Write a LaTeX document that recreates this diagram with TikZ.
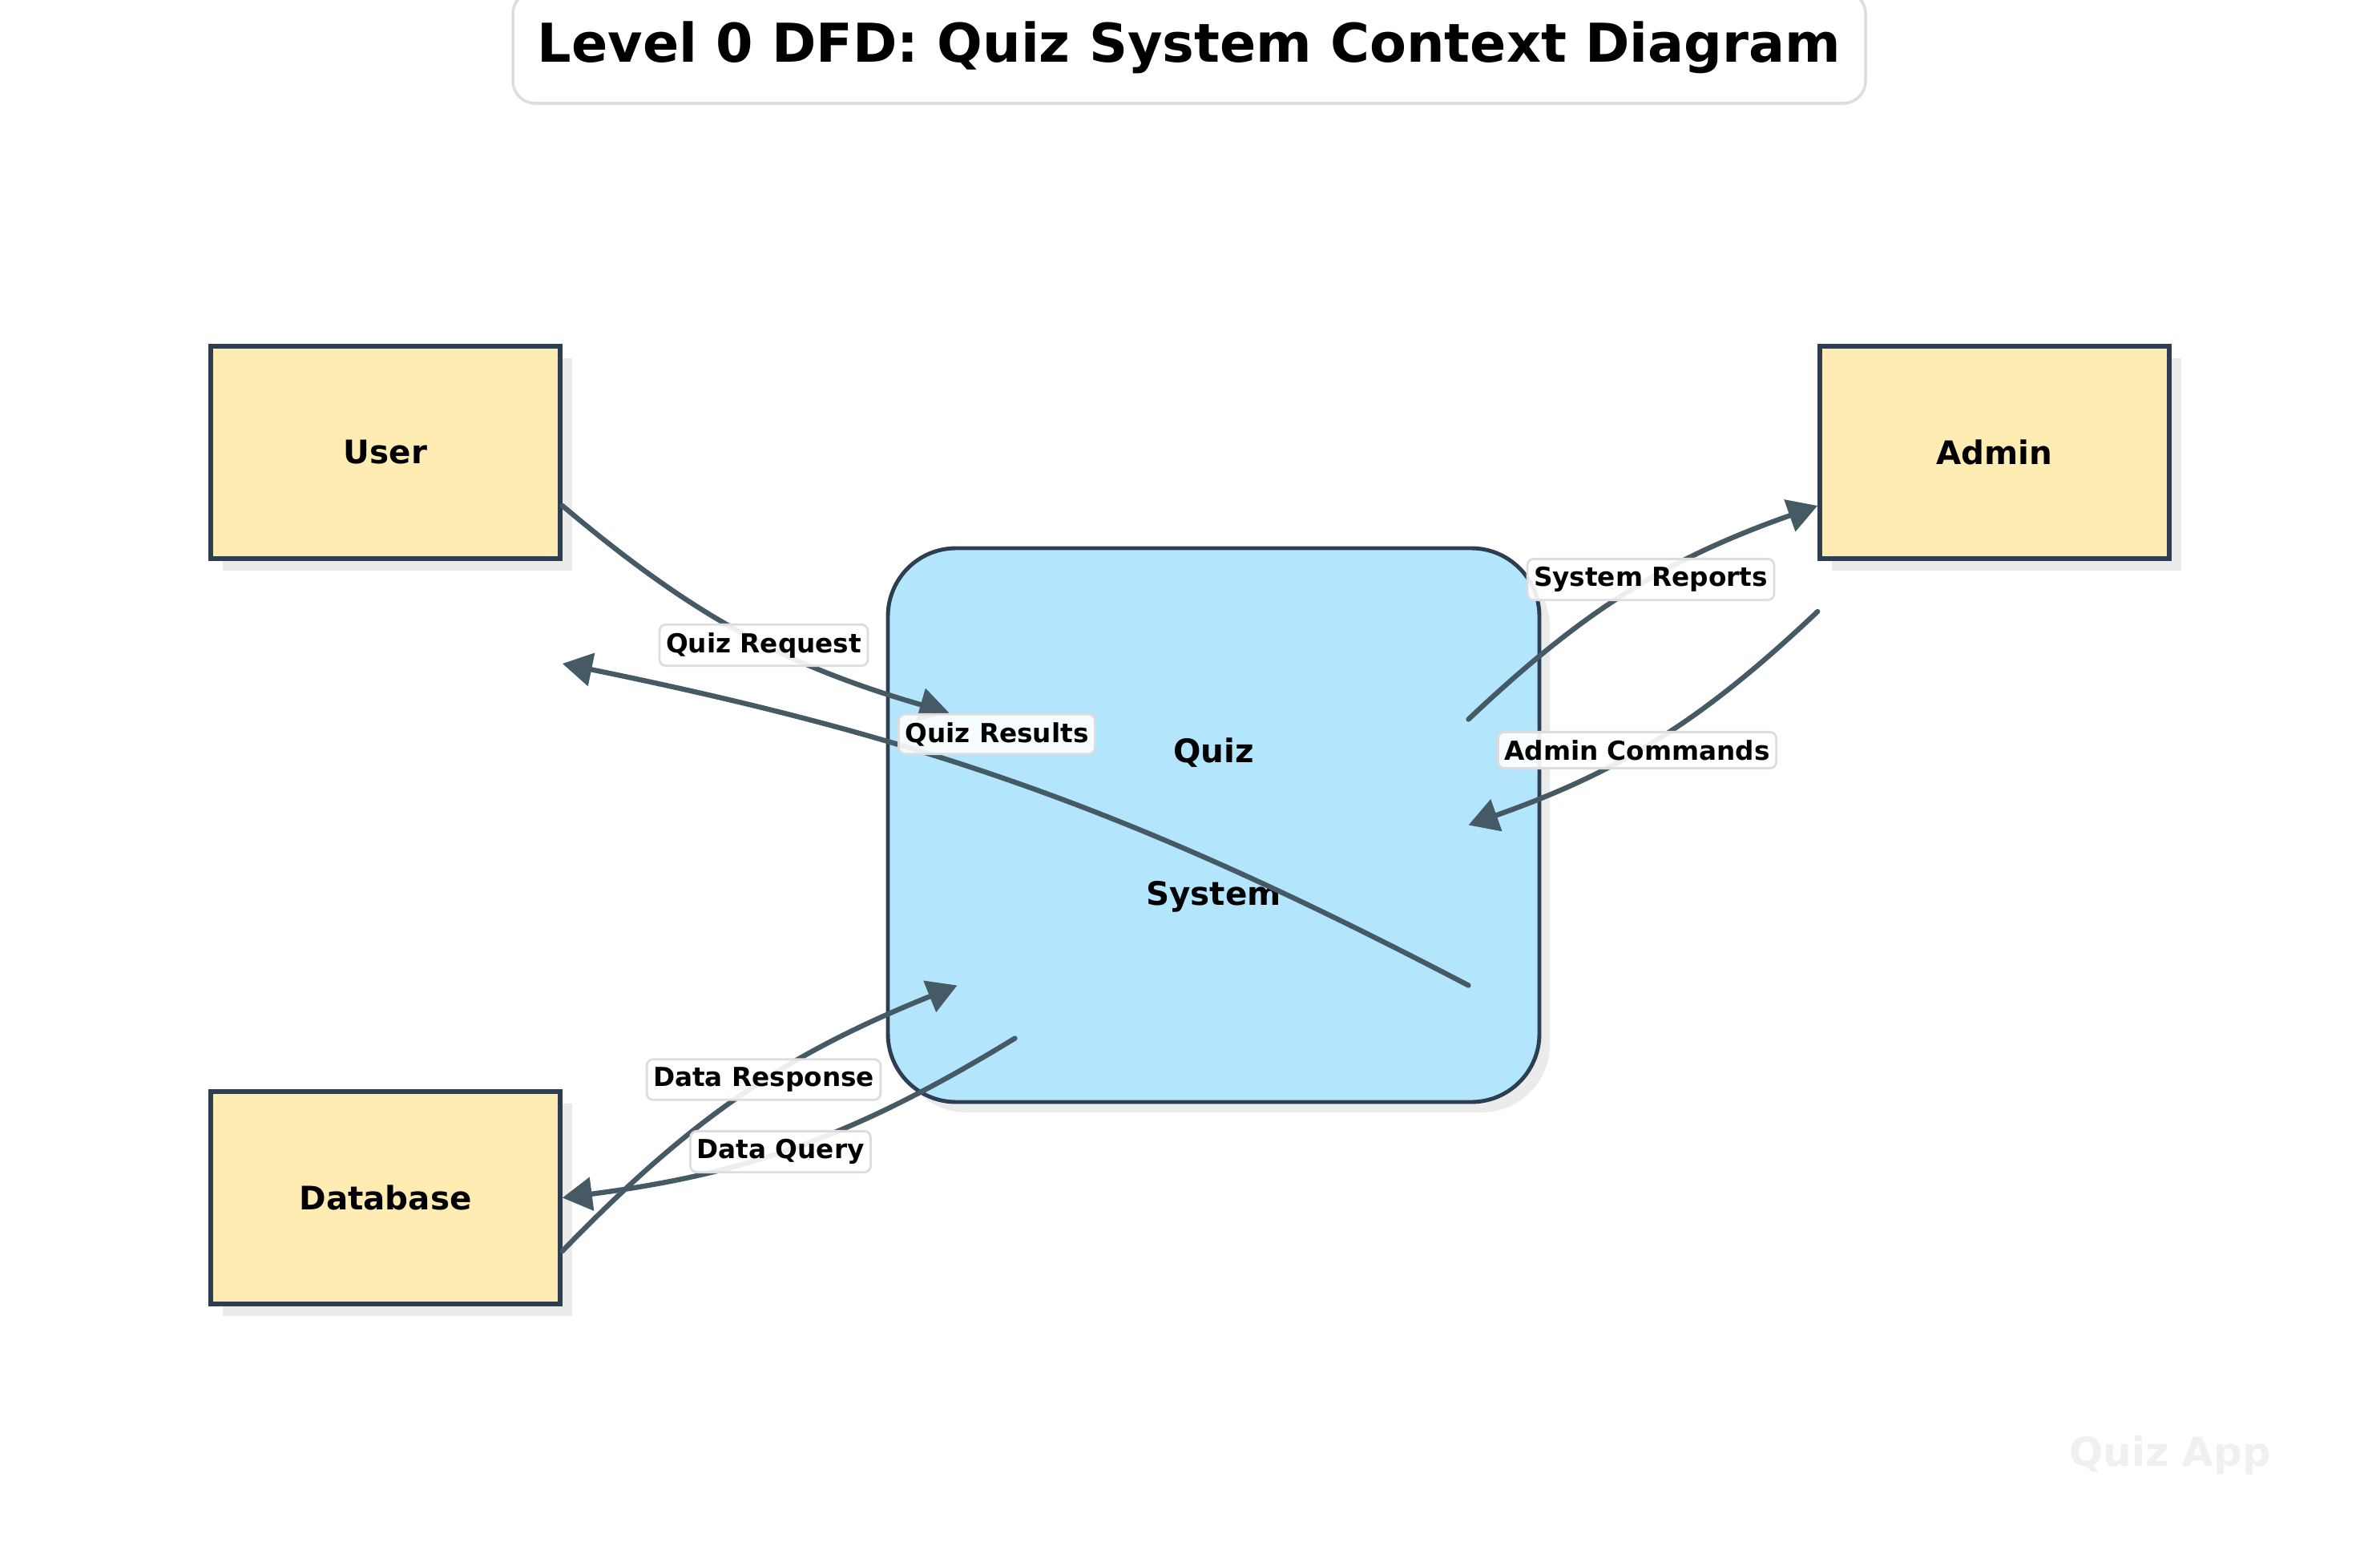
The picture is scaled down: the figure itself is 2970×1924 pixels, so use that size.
\documentclass[tikz,border=0pt]{standalone}
\usepackage{fontspec}
\setmainfont{DejaVu Sans}
\usetikzlibrary{arrows.meta,shadows,calc}

\definecolor{entityfill}{HTML}{FFECB3}
\definecolor{processfill}{HTML}{B3E5FC}
\definecolor{boxline}{HTML}{2C3E50}
\definecolor{flowline}{HTML}{455A64}
\definecolor{lblline}{HTML}{DDDDDD}
\definecolor{marklight}{HTML}{F0F0F0}

\tikzset{
  entity/.style={draw=boxline, line width=1.6pt, fill=entityfill,
    minimum width=43.6mm, minimum height=26.5mm,
    font=\bfseries\fontsize{11.5}{14}\selectfont,
    drop shadow={shadow xshift=1.5mm, shadow yshift=-1.5mm, fill=black!8, opacity=1}},
  process/.style={draw=boxline, line width=1.4pt, fill=processfill, rounded corners=8.5mm,
    minimum width=81.3mm, minimum height=69.1mm, align=center,
    font=\bfseries\fontsize{11.5}{14}\selectfont,
    drop shadow={shadow xshift=1.3mm, shadow yshift=-1.3mm, fill=black!8, opacity=1}},
  flow/.style={draw=flowline, line width=1.8pt, line cap=round,
    -{Triangle[length=3.7mm,width=4.1mm]}},
  flowlbl/.style={fill=white, fill opacity=0.9, text opacity=1, draw=lblline,
    line width=0.8pt, rounded corners=0.8mm, inner xsep=0.8mm, inner ysep=1mm,
    font=\bfseries\fontsize{9.3}{11}\selectfont},
  titlebox/.style={draw=lblline, line width=1pt, fill=white, rounded corners=2.8mm,
    minimum width=168.8mm, minimum height=14mm,
    font=\bfseries\fontsize{19}{23}\selectfont}
}

\begin{document}
\begin{tikzpicture}[x=0.1mm,y=-0.1mm]
  \useasboundingbox (0,0) rectangle (2970,1924);

  % Title
  \node[titlebox] (title) at (1484,59) {Level 0 DFD: Quiz System Context Diagram};

  % External entities and the quiz process
  \node[entity] (user) at (481,564.5) {User};
  \node[entity] (admin) at (2489,564.5) {Admin};
  \node[entity] (db) at (481,1494.5) {Database};
  \node[process] (proc) at (1514.5,1029.5) {Quiz\\[12.9mm]System};

  % Flow end points on the process
  \coordinate (preq) at ($(proc.center)+(-330,-140)$);
  \coordinate (pres) at ($(proc.center)+(318,200)$);
  \coordinate (prep) at ($(proc.center)+(318,-132)$);
  \coordinate (pcmd) at ($(proc.center)+(318,0)$);
  \coordinate (pdrs) at ($(proc.center)+(-320,200)$);
  \coordinate (pdqy) at ($(proc.center)+(-248,266)$);
  % and on the entities
  \coordinate (ureq) at ($(user.east)+(0,66.5)$);
  \coordinate (ures) at ($(user.east)+(0,263.5)$);
  \coordinate (arep) at ($(admin.west)+(0,66.5)$);
  \coordinate (acmd) at ($(admin.west)+(0,198.5)$);
  \coordinate (ddrs) at ($(db.east)+(0,66.5)$);
  \coordinate (ddqy) at (db.east);

  % Data flows
  \draw[flow] (ureq) to[bend right=12] (preq);
  \draw[flow] (pres) to[bend right=8] (ures);
  \draw[flow] (prep) to[bend left=12] (arep);
  \draw[flow] (acmd) to[bend left=12] (pcmd);
  \draw[flow] (ddrs) to[bend left=12] (pdrs);
  \draw[flow] (pdqy) to[bend left=12] (ddqy);

  % Flow labels
  \node[flowlbl] (lreq) at (953,805) {Quiz Request};
  \node[flowlbl] (lres) at (1244,916) {Quiz Results};
  \node[flowlbl] (lrep) at (2060,723) {System Reports};
  \node[flowlbl] (lcmd) at (2043,936) {Admin Commands};
  \node[flowlbl] (ldrs) at (953,1347) {Data Response};
  \node[flowlbl] (ldqy) at (974,1437) {Data Query};

  % Watermark
  \node[text=marklight, font=\bfseries\fontsize{14.2}{17}\selectfont] (mark) at (2708,1816) {Quiz App};
\end{tikzpicture}
\end{document}
